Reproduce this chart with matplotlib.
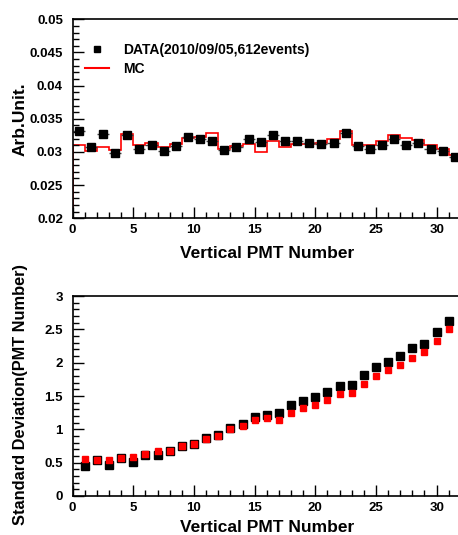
import matplotlib
matplotlib.use("Agg")
import matplotlib.pyplot as plt
import numpy as np
from matplotlib.ticker import MultipleLocator
from matplotlib.lines import Line2D

plt.rcParams['font.family'] = ['Liberation Sans', 'DejaVu Sans']
plt.rcParams['font.weight'] = 'bold'

# top panel: fraction of hits per vertical PMT (bins 0..32)
pmt_edges = np.arange(0, 33)
data_frac = [0.0332, 0.0308, 0.0327, 0.0298, 0.0326, 0.0304, 0.0310, 0.0302,
             0.0309, 0.0323, 0.0319, 0.0316, 0.0303, 0.0307, 0.0319, 0.0315,
             0.0325, 0.0316, 0.0317, 0.0314, 0.0312, 0.0314, 0.0328, 0.0309,
             0.0304, 0.0311, 0.0319, 0.0311, 0.0314, 0.0304, 0.0301, 0.0292]
mc_frac = [0.0311, 0.0301, 0.0308, 0.0303, 0.0327, 0.0311, 0.0313, 0.0307,
           0.0312, 0.0321, 0.0323, 0.0328, 0.0304, 0.0309, 0.0312, 0.0300,
           0.0316, 0.0308, 0.0312, 0.0312, 0.0314, 0.0319, 0.0332, 0.0311,
           0.0310, 0.0316, 0.0326, 0.0321, 0.0318, 0.0310, 0.0304, 0.0296]

# bottom panel: standard deviation vs PMT number
pmt_num = np.arange(1, 32)
data_sd = [0.45, 0.535, 0.465, 0.565, 0.515, 0.615, 0.615, 0.68, 0.755, 0.78,
           0.87, 0.915, 1.025, 1.085, 1.19, 1.215, 1.245, 1.36, 1.43, 1.485,
           1.555, 1.65, 1.665, 1.815, 1.935, 2.015, 2.095, 2.22, 2.28, 2.46, 2.63]
mc_sd = [0.55, 0.535, 0.54, 0.565, 0.585, 0.625, 0.67, 0.68, 0.755, 0.78,
         0.86, 0.9, 1.0, 1.05, 1.14, 1.17, 1.145, 1.245, 1.315, 1.37,
         1.445, 1.525, 1.545, 1.685, 1.8, 1.89, 1.965, 2.075, 2.155, 2.33, 2.505]

top_yticks = [0.02, 0.025, 0.03, 0.035, 0.04, 0.045, 0.05]
top_ylabels = ['0.02', '0.025', '0.03', '0.035', '0.04', '0.045', '0.05']
bot_yticks = [0, 0.5, 1, 1.5, 2, 2.5, 3]
bot_ylabels = ['0', '0.5', '1', '1.5', '2', '2.5', '3']

fig = plt.figure(figsize=(4.58, 5.35), dpi=100)
ax1 = fig.add_axes([0.1587, 0.592, 0.8476, 0.372])
ax2 = fig.add_axes([0.1587, 0.0729, 0.8476, 0.3738])


def root_style(ax):
    ax.tick_params(which='both', direction='in', top=False, right=False,
                   labelsize=9.5, width=1)
    ax.tick_params(axis='y', which='major', pad=7)
    ax.tick_params(axis='x', which='major', pad=4)
    ax.tick_params(which='major', length=8)
    ax.tick_params(which='minor', length=4)
    ax.xaxis.set_major_locator(MultipleLocator(5))
    ax.xaxis.set_minor_locator(MultipleLocator(1))
    for lab in ax.get_xticklabels() + ax.get_yticklabels():
        lab.set_fontweight('bold')
    for s in ax.spines.values():
        s.set_linewidth(1.2)


# --- top
centers = pmt_edges[:-1] + 0.5
ax1.stairs(mc_frac, pmt_edges, baseline=0, color='red', lw=1.2)
ax1.errorbar(centers, data_frac, xerr=0.5, fmt='s', color='black', ms=5.2,
             ecolor='#444444', elinewidth=1, capsize=0)
ax1.set_xlim(0, 32)
ax1.set_ylim(0.02, 0.05)
ax1.set_yticks(top_yticks)
ax1.set_yticklabels(top_ylabels)
ax1.yaxis.set_minor_locator(MultipleLocator(0.001))
ax1.set_xlabel('Vertical PMT Number', fontsize=12.5, fontweight='bold', labelpad=7)
ax1.set_ylabel('Arb.Unit.', fontsize=12.5, fontweight='bold')
ax1.yaxis.set_label_coords(-0.115, 0.5)
root_style(ax1)

data_handle = Line2D([], [], ls='none', marker='s', color='black', ms=4.5)
mc_handle = Line2D([], [], color='red', lw=1.5)
ax1.legend([data_handle, mc_handle], ['DATA(2010/09/05,612events)', 'MC'],
           loc='upper left', bbox_to_anchor=(0.032, 0.88),
           frameon=False, prop={'weight': 'bold', 'size': 10},
           handlelength=1.75, handletextpad=1.0, borderpad=0,
           borderaxespad=0, labelspacing=0.33, numpoints=1)

# --- bottom
ax2.plot(pmt_num, data_sd, 's', color='black', ms=5.8)
ax2.plot(pmt_num, mc_sd, 's', color='red', ms=3.7)
ax2.set_xlim(0, 32)
ax2.set_ylim(0, 3)
ax2.set_yticks(bot_yticks)
ax2.set_yticklabels(bot_ylabels)
ax2.yaxis.set_minor_locator(MultipleLocator(0.1))
ax2.set_xlabel('Vertical PMT Number', fontsize=12.5, fontweight='bold', labelpad=5)
ax2.set_ylabel('Standard Deviation(PMT Number)', fontsize=11.8, fontweight='bold')
ax2.yaxis.set_label_coords(-0.115, 0.51)
root_style(ax2)

fig.savefig('out.png', dpi=100)
